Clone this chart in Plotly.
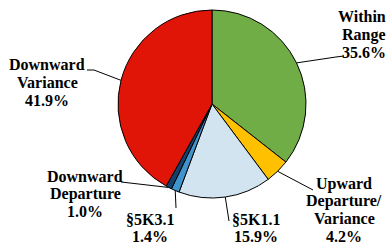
import math
import plotly.graph_objects as go

labels = ["Within Range", "Upward Departure/Variance", "§5K1.1", "§5K3.1",
          "Downward Departure", "Downward Variance"]
values = [35.6, 4.2, 15.9, 1.4, 1.0, 41.9]
label_lines = [["Within", "Range"], ["Upward", "Departure/", "Variance"], ["§5K1.1"],
               ["§5K3.1"], ["Downward", "Departure"], ["Downward", "Variance"]]
colors = ["#70AD47", "#FFC000", "#D2E4F0", "#3F94CB", "#14406E", "#E01508"]

W, H = 390, 246
cx, cy, R = 212, 104, 94  # pie center / radius in pixels (layout)
LS = 17.5                 # label line spacing in pixels

# label layout (pixel positions): text anchor x, block center y, x-anchor
label_pos = [(388, 34.5, "right"), (344, 210, "center"), (256, 228, "center"),
             (150, 228, "center"), (85, 193.5, "center"), (47, 82.5, "center")]
leader_end = [(344, 56), (313, 190), (229, 221), (176, 208), (121, 182), (87, 70)]
leader_elbow = [(336, 57), None, None, None, None, (94, 70)]

def px(x):
    return x / W

def py(y):
    return 1 - y / H

fig = go.Figure(go.Pie(
    labels=labels, values=values, sort=False, direction="clockwise", rotation=0,
    marker=dict(colors=colors, line=dict(color="black", width=1)),
    textinfo="none", hoverinfo="label+percent", showlegend=False,
    domain=dict(x=[px(cx - R), px(cx + R)], y=[py(cy + R), py(cy - R)]),
))

total = sum(values)
cum = 0
shapes = []
annotations = []
for i, v in enumerate(values):
    mid = (cum + v / 2) / total * 2 * math.pi
    cum += v
    sx = cx + R * math.sin(mid)
    sy = cy - R * math.cos(mid)
    pts = [(sx, sy)]
    if leader_elbow[i]:
        pts.append(leader_elbow[i])
    pts.append(leader_end[i])
    path = "M " + " L ".join(f"{px(x):.4f},{py(y):.4f}" for x, y in pts)
    shapes.append(dict(type="path", xref="paper", yref="paper", path=path,
                       line=dict(color="black", width=1)))
    pct = v / total * 100
    lines = label_lines[i] + [f"{pct:.1f}%"]
    tx, ty, anchor = label_pos[i]
    n = len(lines)
    for j, line in enumerate(lines):
        ly = ty + (j - (n - 1) / 2) * LS
        annotations.append(dict(
            x=px(tx), y=py(ly), xref="paper", yref="paper", showarrow=False,
            text=line, xanchor=anchor, yanchor="middle",
            font=dict(family="'Liberation Serif', 'Times New Roman', Times, serif",
                      size=16, color="black", weight="bold")))

fig.update_layout(
    width=W, height=H, margin=dict(l=0, r=0, t=0, b=0),
    paper_bgcolor="white", plot_bgcolor="white",
    shapes=shapes, annotations=annotations,
)
fig.write_html("out.html", config={"displayModeBar": False},
               post_script="document.body.style.margin='0';document.body.style.overflow='hidden';")
